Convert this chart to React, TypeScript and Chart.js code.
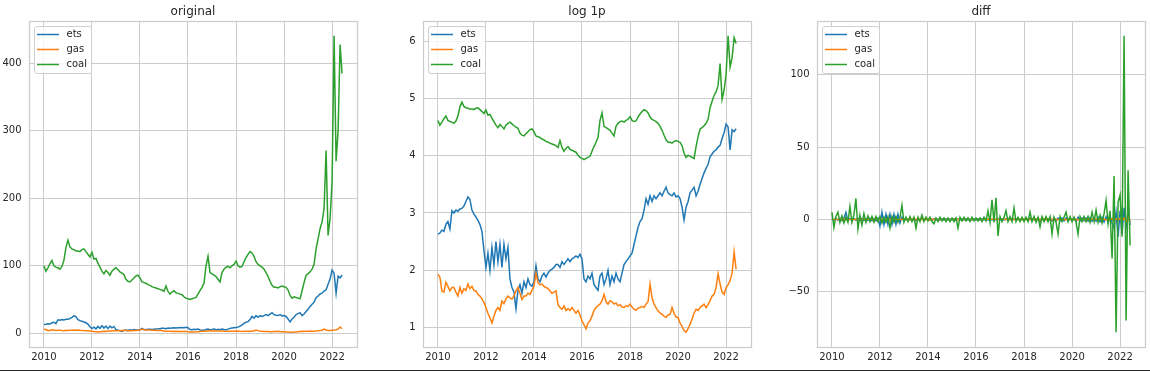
import React, { useEffect, useRef } from "react";
import { Chart, registerables } from "chart.js";

Chart.register(...registerables);

// ---------------- data (monthly samples, Jan 2010 .. Jun 2022) ----------------
const START_YEAR = 2010;
const MONTHS_PER_YEAR = 12;

const seriesNames = ["ets", "gas", "coal"];
const seriesColors = ["#1f77b4", "#ff7f0e", "#2ca02c"];
const panelTitles = ["original", "log 1p", "diff"];
const yearTicks = [2010, 2012, 2014, 2016, 2018, 2020, 2022];
const originalTicks = [0, 100, 200, 300, 400];
const log1pTicks = [1, 2, 3, 4, 5, 6];
const diffTicks = [-50, 0, 50, 100];

// ets, read on the "log 1p" panel
const etsLog1p = [
  2.63, 2.65, 2.70, 2.68, 2.80, 2.85, 2.72, 3.04, 3.00, 3.05, 3.03, 3.07,
  3.08, 3.12, 3.20, 3.28, 3.24, 3.05, 2.98, 2.93, 2.87, 2.80, 2.68, 2.35,
  2.05, 2.30, 2.00, 2.40, 2.10, 2.50, 2.15, 2.45, 2.05, 2.45, 2.20, 2.40,
  1.85, 1.70, 1.62, 1.33, 1.65, 1.75, 1.60, 1.80, 1.70, 1.85, 1.75, 1.72,
  1.80, 2.08, 1.85, 1.80, 1.90, 1.95, 1.88, 1.95, 2.00, 2.02, 2.05, 2.10,
  2.10, 2.05, 2.15, 2.10, 2.15, 2.20, 2.15, 2.20, 2.22, 2.25, 2.22, 2.28,
  2.20, 1.85, 1.80, 1.90, 1.85, 1.95, 1.75, 1.70, 1.65, 1.90, 1.95, 1.75,
  1.85, 2.00, 1.75, 1.90, 1.80, 1.95, 1.85, 1.80, 1.95, 2.10, 2.15, 2.20,
  2.25, 2.30, 2.45, 2.60, 2.75, 2.85, 2.90, 3.05, 3.25, 3.15, 3.30, 3.20,
  3.30, 3.25, 3.30, 3.35, 3.30, 3.38, 3.45, 3.35, 3.32, 3.30, 3.35, 3.28,
  3.30, 3.25, 3.10, 2.88, 3.10, 3.20, 3.35, 3.40, 3.45, 3.30, 3.38, 3.50,
  3.60, 3.70, 3.78, 3.85, 3.98, 4.03, 4.08, 4.10, 4.15, 4.18, 4.30, 4.40,
  4.55, 4.50, 4.10, 4.45, 4.42, 4.47,
];

// gas, read on the "log 1p" panel
const gasLog1p = [
  1.93, 1.88, 1.64, 1.62, 1.79, 1.72, 1.64, 1.70, 1.70, 1.62, 1.55, 1.70,
  1.60, 1.68, 1.65, 1.76, 1.68, 1.72, 1.65, 1.64, 1.58, 1.55, 1.50, 1.44,
  1.35, 1.25, 1.17, 1.08, 1.20, 1.30, 1.35, 1.30, 1.46, 1.42, 1.50, 1.55,
  1.52, 1.50, 1.55, 1.64, 1.70, 1.60, 1.49, 1.55, 1.55, 1.60, 1.58, 1.65,
  1.72, 1.95, 1.78, 1.75, 1.76, 1.72, 1.70, 1.68, 1.64, 1.60, 1.62, 1.64,
  1.40, 1.35, 1.32, 1.38, 1.30, 1.33, 1.30, 1.35, 1.30, 1.25, 1.30, 1.22,
  1.12, 1.05, 0.98, 1.08, 1.12, 1.20, 1.30, 1.35, 1.38, 1.41, 1.47, 1.58,
  1.45, 1.41, 1.47, 1.45, 1.41, 1.43, 1.38, 1.40, 1.36, 1.35, 1.38, 1.37,
  1.41, 1.36, 1.32, 1.30, 1.34, 1.35, 1.37, 1.35, 1.41, 1.45, 1.76, 1.52,
  1.41, 1.35, 1.29, 1.26, 1.23, 1.20, 1.18, 1.22, 1.23, 1.35, 1.25, 1.18,
  1.18, 1.08, 1.02, 0.95, 0.92, 0.98, 1.06, 1.15, 1.25, 1.32, 1.30, 1.35,
  1.38, 1.41, 1.35, 1.40, 1.47, 1.55, 1.58, 1.70, 1.94, 1.76, 1.62, 1.58,
  1.70, 1.75, 1.82, 1.95, 2.32, 2.02,
];

// coal, read on the "original" panel
const coalPrice = [
  100, 92, 97, 103, 108, 100, 98, 97, 95, 99, 108, 127,
  138, 128, 125, 124, 122, 122, 121, 124, 125, 121, 117, 113,
  120, 110, 111, 104, 98, 92, 88, 93, 90, 86, 92, 95,
  97, 94, 91, 89, 87, 80, 77, 76, 79, 82, 85, 86,
  82, 76, 75, 74, 72, 71, 69, 68, 67, 66, 65, 64,
  62, 70, 62, 58, 61, 63, 60, 59, 58, 57, 54, 52,
  51, 50, 51, 52, 53, 58, 63, 68, 74, 100, 114, 90,
  88, 86, 84, 80, 76, 90, 95, 98, 99, 97, 100, 102,
  107, 100, 98, 99, 106, 112, 117, 121, 119, 114, 106, 102,
  100, 98, 95, 90, 84, 77, 71, 68, 68, 67, 69, 70,
  69, 68, 64, 56, 52, 54, 53, 52, 51, 63, 75, 86,
  88, 91, 95, 102, 125, 140, 155, 165, 185, 271, 145, 170,
  225, 441, 255, 300, 428, 385,
];

// "diff" panel
const diffEts = [
  0.5, -0.5, 0.8, -0.6, 0.7, -0.8, 0.6, 5, -0.8, 0.6, -0.5, 0.7,
  -0.6, 0.8, -0.7, 0.6, -0.8, 0.5, -0.6, 0.7, -0.8, 0.6, -1, 0.8,
  -4.5, 5, -3.5, 3.5, -3.5, 3.5, -3.5, 3.5, -3.5, 3.5, -2.5, 1.5,
  -1.2, 1, -1, 0.8, -0.8, 0.7, -0.7, 0.6, -0.5, 0.5, -0.5, 0.4,
  -0.4, 0.5, -0.4, 0.4, -0.4, 0.3, -0.4, 0.4, -0.3, 0.4, -0.4, 0.3,
  -0.4, 0.4, -0.4, 0.3, -0.4, 0.4, -0.3, 0.4, -0.4, 0.3, -0.4, 0.4,
  -0.4, 0.4, -0.4, 0.4, -0.3, 0.4, -0.4, 0.3, -0.4, 0.4, -0.3, 0.4,
  -0.4, 0.4, -0.3, 0.4, -0.4, 0.3, -0.4, 0.4, -0.3, 0.5, -0.4, 0.5,
  -0.5, 0.6, -0.7, 0.8, -0.8, 0.9, -1, 1, -1.2, 1.2, -1, 1,
  -1, 1.1, -1, 0.9, -1.1, 1, -0.9, 1, -1, 0.9, -1, 1,
  -0.9, 1, -1.5, 1.5, -1, 1, -0.9, 1, -1.1, 1.2, -1.2, 1.2,
  -1.2, 1.5, -1.5, 1.5, -1.8, 1.8, -2, 2, -2.5, -6, 5, -12,
  6, -10, 8, -5, 6, -4,
];

const diffGas = [
  0.2, -0.3, 0.25, -0.2, 0.3, -0.25, 0.2, -0.3, 0.2, -0.2, 0.3, -0.2,
  0.25, -0.2, 0.3, -0.25, 0.2, -0.3, 0.2, -0.2, 0.25, -0.2, 0.2, -0.3,
  0.2, -0.25, 0.2, -0.2, 0.3, -0.2, 0.25, -0.2, 0.2, -0.3, 0.2, -0.2,
  0.3, -0.2, 0.25, -0.3, 0.2, -0.2, 0.3, -0.25, 0.2, -0.2, 0.25, -0.2,
  0.4, -0.5, 0.3, -0.25, 0.2, -0.3, 0.2, -0.2, 0.25, -0.2, 0.2, -0.3,
  0.2, -0.25, 0.2, -0.2, 0.2, -0.2, 0.2, -0.25, 0.2, -0.2, 0.2, -0.2,
  0.15, -0.2, 0.15, -0.15, 0.2, -0.15, 0.2, -0.2, 0.2, -0.15, 0.2, -0.25,
  0.2, -0.2, 0.2, -0.2, 0.15, -0.2, 0.2, -0.15, 0.2, -0.2, 0.15, -0.2,
  0.2, -0.15, 0.2, -0.2, 0.15, -0.2, 0.2, -0.2, 0.15, -0.2, 0.4, -0.3,
  0.2, -0.2, 0.15, -0.2, 0.15, -0.15, 0.2, -0.15, 0.15, -0.2, 0.15, -0.15,
  0.15, -0.15, 0.1, -0.15, 0.1, -0.1, 0.15, -0.1, 0.15, -0.15, 0.2, -0.15,
  0.2, -0.2, 0.2, -0.25, 0.3, -0.3, 0.4, -0.4, 0.6, -0.7, 0.5, -0.5,
  0.8, -0.9, 1.0, -1.2, 1.5, -1.8,
];

const diffCoal = [
  5, -5.5, 2, 5, -2, 2.5, -2.5, 1.5, -2, 9, -2, 3,
  14.5, -6.5, 3, -4, 4, -2, 2.5, -1.5, 2, -2, 2, -1.5,
  2, -2.5, 1.5, -2, 2, -6, 2, -2, 2, -2, 1.5, 9.7,
  -2, 1.5, -1.5, 2, -1.5, 1.5, -6, 1.5, -1.5, 3, -1.5, 1.5,
  -1, 1.5, -1.5, -3, 1, -1.5, 1.5, -1, 1, -1.5, 1, -1.5,
  1, -1.5, 1, -6, 1.5, -1, 1.5, -1, 1, -1.5, 1.5, -1,
  1, -1, 1, -1.5, 1.5, -1, 6, -2, 13.6, -2, 15, -11.5,
  2, -1.5, 1.5, 6, -1.5, 2, -1.5, 8, -1.5, 1.5, -1.5, 1.5,
  -1.5, 1.5, -1.5, 5, -1.5, 2, -2, 1.5, -5, 2, -1.5, 2,
  -1.5, 2, -10, 1.5, -2, -10, 2, -1.5, 1.5, 5, -1.5, 2,
  -1.5, 1.5, -2, -10, 2, -1.5, 2, -1.5, 2, -2, 5, -1.5,
  6.5, -2, 3, -2.5, 4, 13, -3, 6, -27, 30, -78, 12,
  17, -12, 127, -70, 34, -18,
];

// ---------------- layout / style ----------------
const FONT = '"DejaVu Sans", "Liberation Sans", sans-serif';
const TEXT = "#262626";
const GRID = "#cccccc";
const H = 372;
const AXIS_LEFT = 29;
const AXIS_RIGHT = 357;
const AXIS_TOP = 21;
const AXIS_BOTTOM = 347;
const PANEL_LEFTS = [0, 394, 788];
const PANEL_WIDTHS = [394, 394, 362];

const monthToYear = (i: number) => START_YEAR + i / MONTHS_PER_YEAR;

const originalSeries = [etsLog1p.map((v) => Math.expm1(v)), gasLog1p.map((v) => Math.expm1(v)), coalPrice];
const log1pSeries = [etsLog1p, gasLog1p, coalPrice.map((v) => Math.log1p(v))];
const diffSeries = [diffEts, diffGas, diffCoal];

const panels = [
  { title: panelTitles[0], series: originalSeries, yTicks: originalTicks },
  { title: panelTitles[1], series: log1pSeries, yTicks: log1pTicks },
  { title: panelTitles[2], series: diffSeries, yTicks: diffTicks },
];

function paddedRange(arrs: number[][]): [number, number] {
  let lo = Infinity;
  let hi = -Infinity;
  arrs.forEach((a) => a.forEach((v) => { if (v < lo) lo = v; if (v > hi) hi = v; }));
  const m = (hi - lo) * 0.05;
  return [lo - m, hi + m];
}

const fmtTick = (v: number) => (v < 0 ? "\u2212" + Math.abs(v) : String(v));

function Panel({ index }: { index: number }) {
  const ref = useRef<HTMLCanvasElement | null>(null);
  useEffect(() => {
    const canvas = ref.current;
    if (!canvas) return;
    const panel = panels[index];
    const width = PANEL_WIDTHS[index];
    const n = panel.series[0].length;
    const [xMin, xMax] = paddedRange([[monthToYear(0), monthToYear(n - 1)]]);
    const [yMin, yMax] = paddedRange(panel.series);

    const datasets = panel.series.map((vals, s) => ({
      label: seriesNames[s],
      data: vals.map((v, i) => ({ x: monthToYear(i), y: v })),
      borderColor: seriesColors[s],
      backgroundColor: seriesColors[s],
      borderWidth: 1.5,
      pointRadius: 0,
      tension: 0,
      fill: false,
      order: seriesNames.length - 1 - s,
    }));

    const decor = {
      id: "decor",
      afterDraw(chart: any) {
        const ctx = chart.ctx as CanvasRenderingContext2D;
        const a = chart.chartArea;
        ctx.save();
        // spines
        ctx.strokeStyle = GRID;
        ctx.lineWidth = 1.25;
        ctx.strokeRect(a.left + 0.5, a.top + 0.5, a.right - a.left, a.bottom - a.top);
        // legend
        const bx = a.left + 5.5;
        const by = a.top + 5.5;
        const bw = 57;
        const bh = 47;
        ctx.beginPath();
        (ctx as any).roundRect(bx, by, bw, bh, 2.5);
        ctx.fillStyle = "rgba(255,255,255,0.8)";
        ctx.fill();
        ctx.strokeStyle = "#d0d0d0";
        ctx.lineWidth = 1;
        ctx.stroke();
        ctx.font = `10px ${FONT}`;
        ctx.textBaseline = "middle";
        ctx.textAlign = "left";
        seriesNames.forEach((name, s) => {
          const ry = by + 8 + s * 15;
          ctx.beginPath();
          ctx.moveTo(bx + 2.5, ry);
          ctx.lineTo(bx + 24.5, ry);
          ctx.strokeStyle = seriesColors[s];
          ctx.lineWidth = 1.5;
          ctx.stroke();
          ctx.fillStyle = TEXT;
          ctx.fillText(name, bx + 32, ry);
        });
        // title
        ctx.font = `12px ${FONT}`;
        ctx.textAlign = "center";
        ctx.textBaseline = "alphabetic";
        ctx.fillStyle = TEXT;
        ctx.fillText(panel.title, (a.left + a.right) / 2, 14.5);
        ctx.restore();
      },
    };

    const chart = new Chart(canvas, {
      type: "line",
      data: { datasets: datasets as any },
      options: {
        responsive: false,
        animation: false,
        devicePixelRatio: 1,
        events: [],
        layout: { padding: { left: 0, top: AXIS_TOP, right: width - AXIS_RIGHT, bottom: 0 } },
        plugins: { legend: { display: false }, tooltip: { enabled: false }, title: { display: false } },
        scales: {
          x: {
            type: "linear",
            min: xMin,
            max: xMax,
            afterFit: (s: any) => { s.height = H - AXIS_BOTTOM; },
            afterBuildTicks: (s: any) => { s.ticks = yearTicks.map((v) => ({ value: v })); },
            grid: { color: GRID, lineWidth: 1, drawTicks: false },
            border: { display: false },
            ticks: {
              color: TEXT,
              font: { family: FONT, size: 10 },
              padding: 4,
              maxRotation: 0,
              autoSkip: false,
              callback: (v: any) => fmtTick(Number(v)),
            },
          },
          y: {
            type: "linear",
            min: yMin,
            max: yMax,
            afterFit: (s: any) => { s.width = AXIS_LEFT; },
            afterBuildTicks: (s: any) => { s.ticks = panel.yTicks.map((v) => ({ value: v })); },
            grid: { color: GRID, lineWidth: 1, drawTicks: false },
            border: { display: false },
            ticks: {
              color: TEXT,
              font: { family: FONT, size: 10 },
              padding: 7.5,
              autoSkip: false,
              callback: (v: any) => fmtTick(Number(v)),
            },
          },
        },
      } as any,
      plugins: [decor],
    });
    return () => chart.destroy();
  }, [index]);

  return (
    <canvas
      ref={ref}
      width={PANEL_WIDTHS[index]}
      height={H}
      style={{ position: "absolute", left: PANEL_LEFTS[index], top: 0, width: PANEL_WIDTHS[index], height: H }}
    />
  );
}

export default function App() {
  return (
    <div style={{ position: "fixed", left: 0, top: 0, width: 1150, height: H, background: "#ffffff", overflow: "hidden" }}>
      {panels.map((_, i) => (
        <Panel key={i} index={i} />
      ))}
      <div style={{ position: "absolute", left: 0, top: 370, width: 1150, height: 1, background: "#2a2a2a" }} />
    </div>
  );
}
